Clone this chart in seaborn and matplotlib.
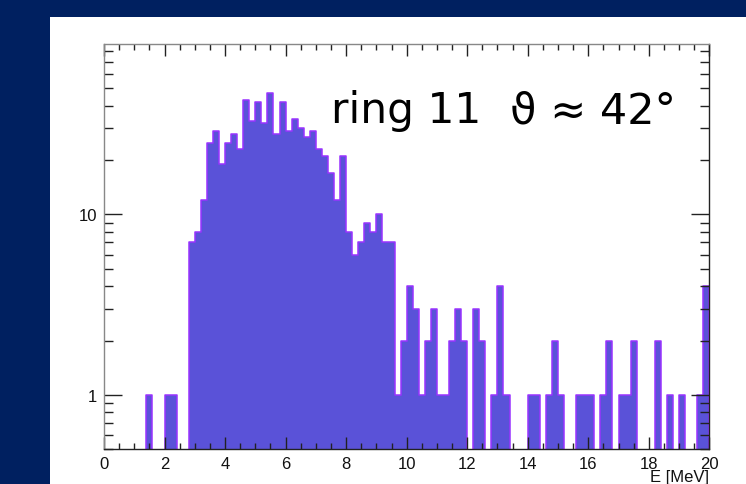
import numpy as np
import pandas as pd
import matplotlib
matplotlib.use("Agg")
import matplotlib.pyplot as plt
import seaborn as sns
from matplotlib.patches import Rectangle
from matplotlib.ticker import FixedLocator, NullFormatter, FixedFormatter

# ---- data: counts per 0.2 MeV bin from 0 to 20 MeV ----
bin_width = 0.2
counts = [
    0, 0, 0, 0, 0, 0, 0, 1, 0, 0,          # 0.0 - 2.0
    1, 1, 0, 0, 7, 8, 12, 25, 29, 19,      # 2.0 - 4.0
    25, 28, 23, 43, 33, 42, 32, 47, 28, 42,  # 4.0 - 6.0
    29, 34, 30, 27, 29, 23, 21, 17, 12, 21,  # 6.0 - 8.0
    8, 6, 7, 9, 8, 10, 7, 7, 1, 2,         # 8.0 - 10.0
    4, 3, 1, 2, 3, 1, 1, 2, 3, 2,          # 10.0 - 12.0
    0, 3, 2, 0, 1, 4, 1, 0, 0, 0,          # 12.0 - 14.0
    1, 1, 0, 1, 2, 1, 0, 0, 1, 1,          # 14.0 - 16.0
    1, 0, 1, 2, 0, 1, 1, 2, 0, 0,          # 16.0 - 18.0
    0, 2, 0, 1, 0, 1, 0, 0, 1, 4,          # 18.0 - 20.0
]
energy_centers = [round(bin_width * (i + 0.5), 3) for i in range(len(counts))]
x_ticks = [0, 2, 4, 6, 8, 10, 12, 14, 16, 18, 20]
y_ticks = [1, 10]
y_tick_labels = ["1", "10"]
x_label = "E [MeV]"
annotation_ring = "ring 11"
annotation_angle = "\u03d1 \u2248 42\u00b0"

df = pd.DataFrame({"E": energy_centers, "counts": counts})

W, H = 746, 485
fig = plt.figure(figsize=(W / 100, H / 100), dpi=100)
fig.patch.set_facecolor("#002060")
fig.patches.append(Rectangle((50 / W, 0), 1 - 50 / W, 1 - 18 / H,
                             transform=fig.transFigure, facecolor="white",
                             edgecolor="none", zorder=-10))

ax = fig.add_axes([104 / W, 1 - 450.3 / H, (709.3 - 104) / W, (450.3 - 45) / H])
ax.set_zorder(2)
ax.set_facecolor("white")

sns.histplot(data=df, x="E", weights="counts", binwidth=bin_width, binrange=(0, 20),
             element="step", fill=True, color="#5a52d8", alpha=1.0,
             edgecolor="#9933ff", linewidth=1.1, ax=ax)

ax.set_yscale("log")
ax.set_xlim(0, 20)
ax.set_ylim(0.5, 88)

# ticks
ax.xaxis.set_major_locator(FixedLocator(x_ticks))
ax.set_xticklabels([str(t) for t in x_ticks])
ax.xaxis.set_minor_locator(FixedLocator([v * 0.5 for v in range(41)]))
ax.yaxis.set_major_locator(FixedLocator(y_ticks))
ax.yaxis.set_major_formatter(FixedFormatter(y_tick_labels))
ax.yaxis.set_minor_locator(FixedLocator([0.5, 0.6, 0.7, 0.8, 0.9] + list(range(2, 10)) + list(range(20, 90, 10))))
ax.yaxis.set_minor_formatter(NullFormatter())

ax.tick_params(axis="x", which="major", direction="in", length=8.6, width=1.0,
               top=True, bottom=True, labelsize=12, pad=5, colors="#222222")
ax.tick_params(axis="x", which="minor", direction="in", length=4.5, width=1.0,
               top=True, bottom=True, colors="#222222")
ax.tick_params(axis="y", which="major", direction="in", length=13, width=1.0,
               left=True, right=True, labelsize=12, pad=5, colors="#222222")
ax.tick_params(axis="y", which="minor", direction="in", length=6.5, width=1.0,
               left=True, right=True, colors="#222222")

for t in ax.xaxis.get_major_ticks() + ax.xaxis.get_minor_ticks():
    t.tick2line.set_color("#888888")
for t in ax.yaxis.get_major_ticks() + ax.yaxis.get_minor_ticks():
    t.tick1line.set_color("#888888")

for lab in ax.get_xticklabels() + ax.get_yticklabels():
    lab.set_fontfamily("Liberation Sans")
    lab.set_color("#111111")

ax.spines["left"].set_color("#888888")
ax.spines["top"].set_color("#888888")
ax.spines["right"].set_color("#222222")
ax.spines["bottom"].set_color("#222222")
for s in ax.spines.values():
    s.set_linewidth(1.0)
    s.set_zorder(5)

ax.set_xlabel("")
ax.set_ylabel("")
fig.text(709 / W, 1 - 478 / H, x_label, ha="right", va="center",
         fontsize=12, family="Liberation Sans", color="#111111")

fig.text(331 / W, 1 - 123 / H, annotation_ring, ha="left", va="baseline",
         fontsize=30.5, family="DejaVu Sans", color="black", zorder=10)
fig.text(676 / W, 1 - 123 / H, annotation_angle, ha="right", va="baseline",
         fontsize=31, family="DejaVu Sans", color="black", zorder=10)

fig.savefig("out.png", dpi=100, facecolor=fig.get_facecolor())
